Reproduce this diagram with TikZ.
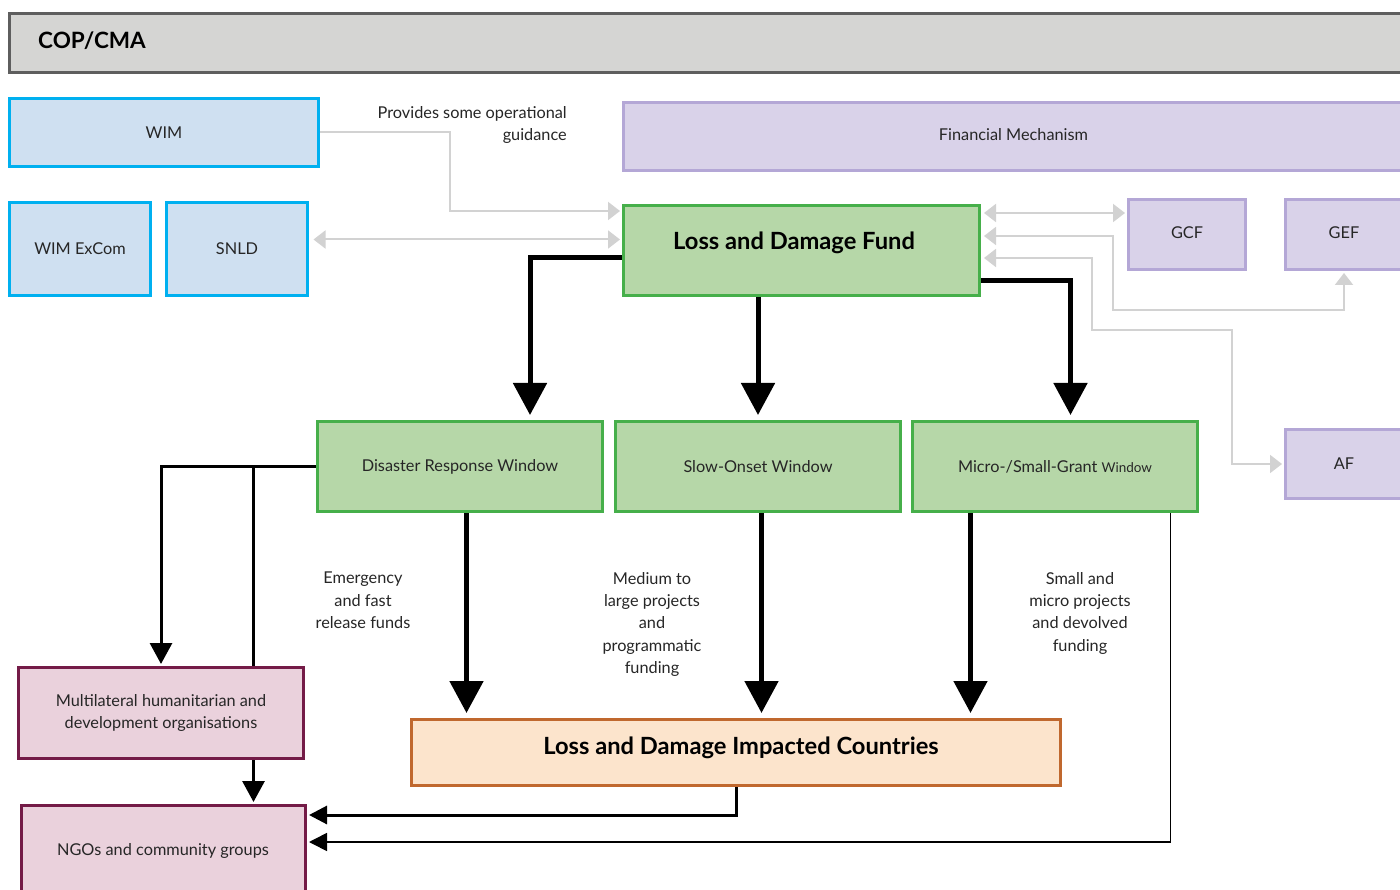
\documentclass[tikz,border=0pt]{standalone}
\usepackage{fontspec}
\setmainfont{Lato}
\usetikzlibrary{arrows.meta,calc}
\definecolor{copfill}{HTML}{D5D5D3}
\definecolor{copdraw}{HTML}{5E5E5E}
\definecolor{bluefill}{HTML}{CFE0F1}
\definecolor{bluedraw}{HTML}{00B0F0}
\definecolor{purpfill}{HTML}{D9D2E9}
\definecolor{purpdraw}{HTML}{B4A7D6}
\definecolor{greenfill}{HTML}{B6D7A8}
\definecolor{greendraw}{HTML}{46AF4A}
\definecolor{maroonfill}{HTML}{EAD1DC}
\definecolor{maroondraw}{HTML}{741B47}
\definecolor{orangefill}{HTML}{FCE4CC}
\definecolor{orangedraw}{HTML}{C0682E}
\definecolor{grayline}{HTML}{D2D2D2}
\definecolor{txt}{HTML}{262626}
\begin{document}
\begin{tikzpicture}[x=1pt,y=-1pt,
  box/.style={draw, line width=3pt, anchor=north west, inner sep=0pt, align=center,
    font=\fontsize{16.3}{22}\selectfont, text=txt},
  bluebox/.style={box, fill=bluefill, draw=bluedraw},
  purpbox/.style={box, fill=purpfill, draw=purpdraw},
  greenbox/.style={box, fill=greenfill, draw=greendraw},
  maroonbox/.style={box, fill=maroonfill, draw=maroondraw},
  orangebox/.style={box, fill=orangefill, draw=orangedraw},
  copbox/.style={box, fill=copfill, draw=copdraw},
  bigtext/.style={font=\fontsize{23.7}{26}\selectfont\bfseries, text=black, inner sep=0pt},
  smalltext/.style={font=\fontsize{16.3}{22.3}\selectfont, text=txt, inner sep=0pt, align=center},
  garrow/.style={draw=grayline, line width=2pt, -{Triangle[width=18pt,length=12pt]}, shorten >=2pt},
  gboth/.style={draw=grayline, line width=2pt, {Triangle[width=18pt,length=12pt]}-{Triangle[width=18pt,length=12pt]}, shorten >=2pt, shorten <=3pt},
  bkthick/.style={draw=black, line width=5pt, -{Triangle[width=33pt,length=32pt]}, shorten >=5pt},
  bkmed/.style={draw=black, line width=3pt, -{Triangle[width=22pt,length=21pt]}, shorten >=2pt},
  bkline/.style={draw=black, line width=3pt},
  bkthinarrow/.style={draw=black, line width=3pt, -{Triangle[width=18pt,length=18pt]}, shorten >=2pt},
  bkfine/.style={draw=black, line width=1.6pt, -{Triangle[width=18pt,length=18pt]}, shorten >=2pt}
]
\clip (0,0) rectangle (1400,890);
\fill[white] (0,0) rectangle (1400,890);

% boxes
\node[copbox, minimum width=1420pt, minimum height=59pt] (cop) at (8,12) {};
\node[bigtext, anchor=west, font=\fontsize{22.5}{24}\selectfont\bfseries] (copt) at (38,41) {COP/CMA};

\node[bluebox, minimum width=309pt, minimum height=68pt] (wim) at (8,97) {WIM};
\node[bluebox, minimum width=141pt, minimum height=93pt] (excom) at (8,201) {WIM ExCom};
\node[bluebox, minimum width=141pt, minimum height=93pt] (snld) at (165,201) {SNLD};

\node[purpbox, minimum width=780pt, minimum height=68pt] (fm) at (622,101) {\raisebox{3pt}{Financial Mechanism}};
\node[greenbox, minimum width=356pt, minimum height=90pt] (ldf) at (622,204) {};
\node[bigtext] (ldft) at (794,243) {Loss and Damage Fund};

\node[purpbox, minimum width=117pt, minimum height=70pt] (gcf) at (1127,198) {\raisebox{3pt}{GCF}};
\node[purpbox, minimum width=117pt, minimum height=70pt] (gef) at (1284,198) {\raisebox{3pt}{GEF}};
\node[purpbox, minimum width=117pt, minimum height=69pt] (af) at (1284,428) {AF};

\node[greenbox, minimum width=285pt, minimum height=90pt] (drw) at (316,420) {Disaster Response Window};
\node[greenbox, minimum width=285pt, minimum height=90pt] (sow) at (614,420) {Slow-Onset Window};
\node[greenbox, minimum width=285pt, minimum height=90pt] (msg) at (911,420) {Micro-/Small-Grant {\fontsize{13.5}{15}\selectfont Window}};

\node[maroonbox, minimum width=285pt, minimum height=91pt] (mul) at (17,666) {\raisebox{2pt}{\parbox{280pt}{\centering Multilateral humanitarian and\\development organisations}}};
\node[maroonbox, minimum width=284pt, minimum height=110pt] (ngo) at (20,804) {};
\node[smalltext] (ngot) at (163,851) {NGOs and community groups};

\node[orangebox, minimum width=649pt, minimum height=66pt] (ldic) at (410,718) {};
\node[bigtext] (ldict) at (741,748) {Loss and Damage Impacted Countries};

% labels
\node[smalltext, align=right, anchor=north east] (guid) at (567,106) {Provides some operational\\guidance};
\node[smalltext, anchor=north] (emer) at (363,572) {Emergency\\and fast\\release funds};
\node[smalltext, anchor=north] (med) at (652,572) {Medium to\\large projects\\and\\programmatic\\funding};
\node[smalltext, anchor=north] (small) at (1080,572) {Small and\\micro projects\\and devolved\\funding};

% gray connectors
\draw[garrow] (wim.east) -- ++(130,0) |- ($(ldf.north west)+(0,7)$);
\draw[gboth] ($(snld.east)+(1.5,-9.5)$) -- ($(ldf.west)+(0,-11)$);
\draw[gboth] ($(ldf.north east)+(0,9)$) -- ($(gcf.north west)+(0,15)$);
\draw[gboth] ($(ldf.north east)+(0,32)$) -- ++(132,0) |- ($(gef.south)+(0,39)$) -- (gef.south);
\draw[gboth] ($(ldf.north east)+(0,54)$) -- ++(111,0) -- ++(0,72) -| ($(af.west)+(-52,0)$) -- (af.west);

% thick black connectors
\draw[bkthick] ($(ldf.west)+(0,7)$) -| ($(drw.north)+(70,0)$);
\draw[bkthick] (sow.north |- ldf.south) -- (sow.north);
\draw[bkthick] ($(ldf.east)+(0,30)$) -| ($(msg.north)+(15.5,0)$);

\coordinate (d1) at ($(drw.south)+(6.5,0)$);
\coordinate (s1) at ($(sow.south)+(3.5,0)$);
\coordinate (m1) at ($(msg.south)+(-84.5,0)$);
\draw[bkthick] (d1) -- (d1 |- ldic.north);
\draw[bkthick] (s1) -- (s1 |- ldic.north);
\draw[bkthick] (m1) -- (m1 |- ldic.north);

% thin black connectors
\coordinate (j) at ($(mul.north)+(92.5,0)$);
\draw[bkmed] (drw.west) -| (mul.north);
\draw[bkline] (j |- drw.west) -- (j);
\draw[bkmed] (j |- mul.south) -- (j |- ngo.north);
\draw[bkthinarrow] ($(ldic.south)+(0.5,0)$) |- ($(ngo.north east)+(0,11)$);
\coordinate (r1) at ($(msg.south)+(115.5,0)$);
\draw[bkfine] (r1) |- ($(ngo.north east)+(0,38)$);
\end{tikzpicture}
\end{document}
